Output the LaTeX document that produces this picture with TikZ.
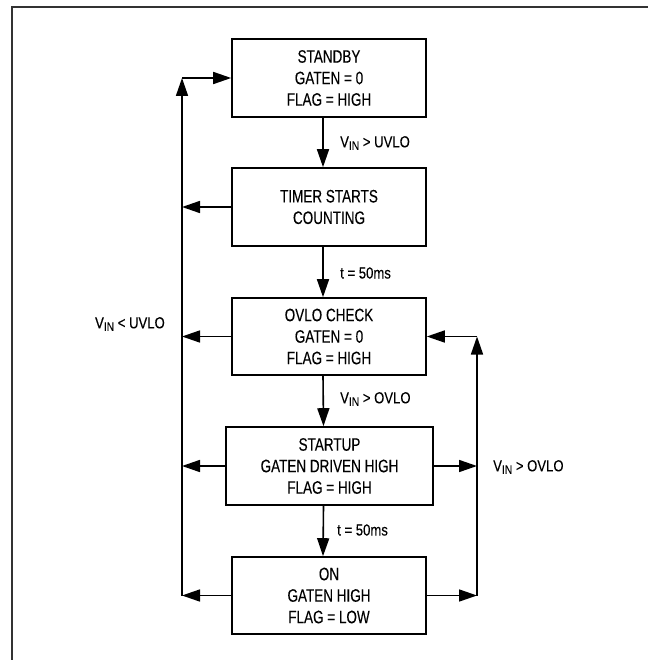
\documentclass[tikz,border=0pt]{standalone}
\usepackage{fontspec}
\setmainfont[FakeStretch=0.75,FakeBold=0.12]{Liberation Sans}
\newfontfamily\lblfont[FakeStretch=0.82,FakeBold=0.12]{Liberation Sans}
\usetikzlibrary{arrows.meta}
\newcommand{\vin}{V\raisebox{-0.3ex}{\fontsize{12.5}{12.5}\selectfont IN}}
\begin{document}
\begin{tikzpicture}[x=1pt,y=-1pt,
  statebox/.style={draw,line width=1.6pt,minimum width=194pt,minimum height=78pt,
    align=center,inner sep=0pt,font=\fontsize{18}{21.5}\selectfont},
  arr/.style={line width=1.6pt,-{Triangle[length=18pt,width=12pt]}},
  lbl/.style={inner sep=0pt,font=\lblfont\fontsize{16}{19}\selectfont}]
\useasboundingbox (0,0) rectangle (648,660);
\draw[line width=2pt,black!80] (12,660) -- (12,7) -- (648,7);
% states
\node[statebox] (standby) at (329,78) {STANDBY\\GATEN = 0\\FLAG = HIGH};
\node[statebox] (timer) at (329,207) {TIMER STARTS\\COUNTING};
\node[statebox,minimum height=77pt] (ovlo) at (329,336.5) {OVLO CHECK\\GATEN = 0\\FLAG = HIGH};
\node[statebox,minimum width=207pt] (startup) at (329.5,466) {STARTUP\\GATEN DRIVEN HIGH\\FLAG = HIGH};
\node[statebox,minimum height=77pt] (onstate) at (329,595.5) {ON\\GATEN HIGH\\FLAG = LOW};
% down the chain
\draw[arr] ([xshift=-6pt]standby.south) -- ([xshift=-6pt]timer.north);
\draw[arr] ([xshift=-6pt]timer.south) -- ([xshift=-6pt]ovlo.north);
\draw[arr] ([xshift=-6pt]ovlo.south) -- ([xshift=-6pt]startup.north);
\draw[arr] ([xshift=-6pt]startup.south) -- ([xshift=-6pt]onstate.north);
\node[lbl,anchor=west] (uvlo) at (340,143) {\vin{} > UVLO};
\node[lbl,anchor=west] (tone) at (340,273) {t = 50ms};
\node[lbl,anchor=west] (ovin) at (340,399) {\vin{} > OVLO};
\node[lbl,anchor=west] (ttwo) at (337,530) {t = 50ms};
% back to standby
\coordinate (ltop) at (182,78);
\coordinate (lbot) at (182,595.5);
\foreach \s in {timer,ovlo,startup,onstate}
  \draw[arr] (\s.west) -- (\s.west -| ltop);
\draw[arr] (lbot) -- (ltop);
\draw[arr] (ltop) -- (standby.west);
\node[lbl,anchor=east] (luvlo) at (165,324) {\vin{} < UVLO};
% back to ovlo check
\coordinate (rtop) at (477,336.5);
\coordinate (rbot) at (477,595.5);
\foreach \s in {startup,onstate}
  \draw[arr] (\s.east) -- (\s.east -| rtop);
\draw[arr] (rbot) -- (rtop);
\draw[arr] (rtop) -- (ovlo.east);
\node[lbl,anchor=west] (rovlo) at (493,467) {\vin{} > OVLO};
\end{tikzpicture}
\end{document}
